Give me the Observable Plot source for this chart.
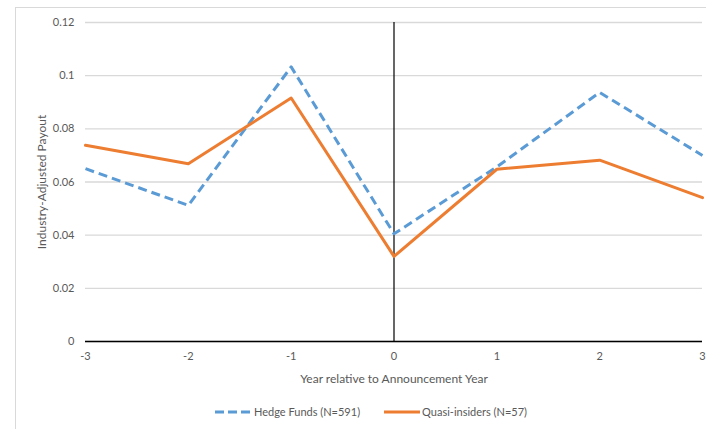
<!DOCTYPE html>
<html>
<head>
<meta charset="utf-8">
<script src="https://cdn.jsdelivr.net/npm/d3@7"></script>
<script src="https://cdn.jsdelivr.net/npm/@observablehq/plot@0.6"></script>
<style>
  html, body { margin: 0; padding: 0; background: #fff; }
  body { width: 706px; height: 429px; position: relative; overflow: hidden; font-family: Lato, "Open Sans", sans-serif; }
  #frame { position: absolute; left: 15px; top: 7px; width: 720px; height: 440px; border: 1px solid #d9d9d9; box-sizing: border-box; }
  #chart { position: absolute; left: 0; top: 0; }
  #legend { position: absolute; left: 215px; top: 405px; display: flex; align-items: center; font-size: 11px; color: #595959; white-space: nowrap; }
  #legend .item { display: flex; align-items: center; }
  #legend svg { display: block; }
</style>
</head>
<body>
<div id="frame"></div>
<div id="chart"></div>
<div id="legend"></div>
<script>
// Years relative to the announcement year
const years = [-3, -2, -1, 0, 1, 2, 3];
// Industry-adjusted payout by group
const hedgeFunds = [0.065, 0.0512, 0.1033, 0.0405, 0.0657, 0.0937, 0.0700];
const quasiInsiders = [0.0738, 0.0669, 0.0916, 0.0320, 0.0648, 0.0682, 0.0541];
const yTicks = [0, 0.02, 0.04, 0.06, 0.08, 0.1, 0.12];
const seriesNames = ["Hedge Funds (N=591)", "Quasi-insiders (N=57)"];
const seriesColors = ["#5b9bd5", "#ed7d31"];

const hedgeRows = years.map((year, i) => ({year, value: hedgeFunds[i]}));
const quasiRows = years.map((year, i) => ({year, value: quasiInsiders[i]}));

const plot = Plot.plot({
  width: 706,
  height: 392,
  marginLeft: 85,
  marginRight: 4,
  marginTop: 22,
  marginBottom: 51,
  style: { fontFamily: "Lato, 'Open Sans', sans-serif", fontSize: "11px", color: "#595959", background: "transparent" },
  x: { domain: [-3, 3], ticks: years, tickSize: 0, tickPadding: 11, tickFormat: d => String(d), label: null },
  y: { domain: [0, 0.12], ticks: yTicks, tickSize: 0, tickPadding: 11, tickFormat: d => String(d), label: null },
  marks: [
    Plot.gridY(yTicks, { stroke: "#d9d9d9", strokeOpacity: 1, strokeWidth: 1.3 }),
    Plot.ruleY([0], { stroke: "#000", strokeWidth: 1.3 }),
    Plot.ruleX([0], { stroke: "#000", strokeWidth: 1.2 }),
    Plot.axisX({ ticks: years, tickSize: 0, tickPadding: 11, tickFormat: d => String(d), label: null }),
    Plot.axisY({ ticks: yTicks, tickSize: 0, tickPadding: 11, tickFormat: d => String(d), label: null }),
    Plot.line(hedgeRows, { x: "year", y: "value", stroke: seriesColors[0], strokeWidth: 3, strokeDasharray: "9,5", strokeLinejoin: "round", strokeLinecap: "butt" }),
    Plot.line(quasiRows, { x: "year", y: "value", stroke: seriesColors[1], strokeWidth: 3, strokeLinejoin: "round" }),
    Plot.text(["Year relative to Announcement Year"], { frameAnchor: "bottom", dy: 41, fill: "#595959", fontSize: 12 }),
    Plot.text(["Industry-Adjusted Payout"], { frameAnchor: "left", textAnchor: "middle", dx: -43, rotate: -90, fill: "#595959", fontSize: 12 })
  ]
});
document.getElementById("chart").appendChild(plot);

// Legend below the plot
const legend = d3.select("#legend");
seriesNames.forEach((name, i) => {
  const item = legend.append("div").attr("class", "item").style("margin-right", i === 0 ? "24px" : "0");
  const sw = item.append("svg").attr("width", 36).attr("height", 10);
  sw.append("line").attr("x1", 0).attr("x2", 36).attr("y1", 5).attr("y2", 5)
    .attr("stroke", seriesColors[i]).attr("stroke-width", 3)
    .attr("stroke-dasharray", i === 0 ? "9,4" : null);
  item.append("span").style("margin-left", i === 0 ? "3px" : "2px").text(name);
});
</script>
</body>
</html>
